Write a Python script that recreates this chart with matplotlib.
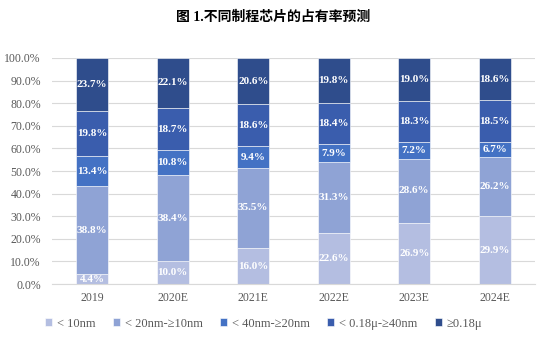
import numpy as np
import matplotlib.pyplot as plt

plt.rcParams.update({
    "font.family": ["Liberation Serif", "Noto Sans CJK SC"],
    "figure.facecolor": "white",
})

# Market share by process node (%)
years = ["2019", "2020E", "2021E", "2022E", "2023E", "2024E"]
series_names = ["< 10nm", "< 20nm-≥10nm", "< 40nm-≥20nm", "< 0.18μ-≥40nm", "≥0.18μ"]
lt10 = [4.4, 10.0, 16.0, 22.6, 26.9, 29.9]
lt20 = [38.8, 38.4, 35.5, 31.3, 28.6, 26.2]
lt40 = [13.4, 10.8, 9.4, 7.9, 7.2, 6.7]
lt018 = [19.8, 18.7, 18.6, 18.4, 18.3, 18.5]
ge018 = [23.7, 22.1, 20.6, 19.8, 19.0, 18.6]
series = [lt10, lt20, lt40, lt018, ge018]
colors = ["#B4BEE1", "#8FA3D5", "#4472C4", "#3A5DAD", "#2F4D8C"]

fig = plt.figure(figsize=(5.47, 3.37), dpi=100)
ax = fig.add_axes([0.095, 0.157, 0.883, 0.671])

x = np.arange(len(years))
bottom = np.zeros(len(years))
for vals, c, name in zip(series, colors, series_names):
    vals = np.array(vals)
    ax.bar(x, vals, 0.4, bottom=bottom, color=c, edgecolor="white",
           linewidth=0.4, label=name, zorder=2)
    for xi, b, v in zip(x, bottom, vals):
        ax.text(xi, b + v / 2, f"{v:.1f}%", ha="center", va="center",
                color="white", fontsize=8, fontweight="bold", zorder=3)
    bottom += vals

ax.set_xlim(-0.5, len(years) - 0.5)
ax.set_ylim(0, 100)
ax.set_yticks(np.arange(0, 101, 10))
ax.set_yticklabels([f"{v:.1f}%" for v in range(0, 101, 10)])
ax.set_xticks(x)
ax.set_xticklabels(years)
ax.tick_params(axis="both", length=0, labelsize=8.5, colors="#595959")
ax.tick_params(axis="x", pad=6)
ax.tick_params(axis="y", pad=8)
ax.grid(axis="y", color="#D9D9D9", linewidth=0.8, zorder=0)
for s in ["top", "right", "left"]:
    ax.spines[s].set_visible(False)
ax.spines["bottom"].set_color("#D9D9D9")
ax.spines["bottom"].set_linewidth(0.8)

fig.text(0.5, 0.948, "图 1.不同制程芯片的占有率预测", ha="center", va="center",
         fontsize=10, fontweight="bold", color="black",
         family=["Liberation Serif", "Noto Sans CJK SC"])

fig.legend(loc="center", bbox_to_anchor=(0.482, 0.04), ncol=5, frameon=False,
           fontsize=9, handlelength=0.55, handleheight=0.55, handletextpad=0.4,
           columnspacing=1.4, labelcolor="#595959")

fig.savefig("out.png", dpi=100)
